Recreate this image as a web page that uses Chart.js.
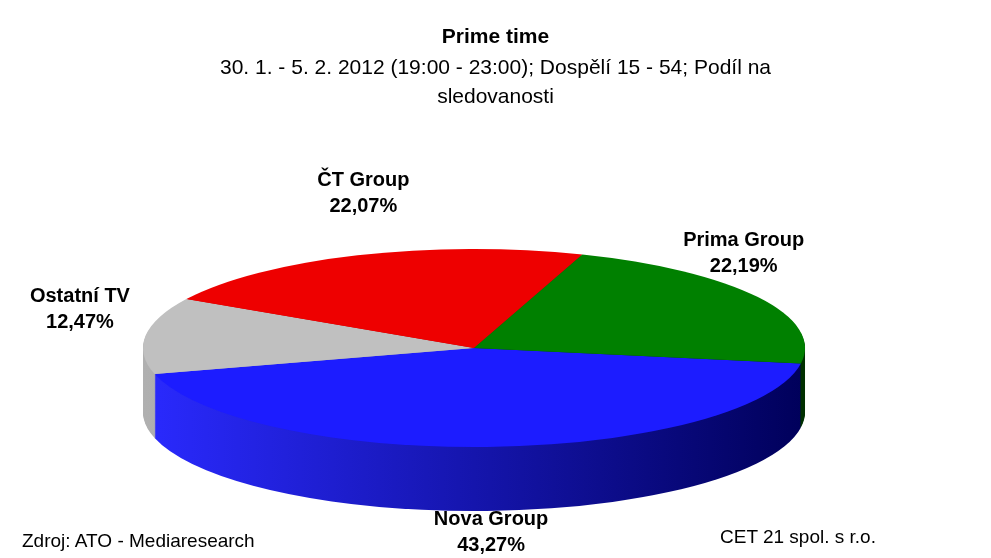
<!DOCTYPE html>
<html><head><meta charset="utf-8">
<script src="https://cdn.jsdelivr.net/npm/chart.js@4.4.1/dist/chart.umd.min.js"></script>
<style>
body{margin:0;background:#fff;font-family:"Liberation Sans",Arial,sans-serif}
#wrap{position:relative;width:991px;height:558px}
.foot{position:absolute;font-size:19px;color:#000}
</style></head><body>
<div id="wrap">
<canvas id="c" width="991" height="558"></canvas>
<div class="foot" style="left:22px;top:530px">Zdroj: ATO - Mediaresearch</div>
<div class="foot" style="left:720px;top:526px">CET 21 spol. s r.o.</div>
</div>
<script>
const labels = ["Nova Group", "Ostatní TV", "ČT Group", "Prima Group"];
const shares = [43.27, 12.47, 22.07, 22.19];
const topColors = ["#1c1cff", "#c0c0c0", "#ee0000", "#008000"];
const sideDark = ["#00005a", "#8a8a8a", "#900000", "#003000"];
const sideLight = ["#2a2aff", "#b0b0b0", "#d00000", "#006000"];

// geometry of the tilted pie
const cx = 474, cy = 348, rx = 331, ry = 99, depth = 64;

const pie3d = {
  id: "pie3d",
  beforeDatasetsDraw(chart) {
    const ctx = chart.ctx;
    const arcs = chart.getDatasetMeta(0).data;
    const slice = (el, dy) => {
      const s = rx / el.outerRadius;
      ctx.save();
      ctx.translate(cx, cy + dy);
      ctx.scale(s, (ry / rx) * s);
      ctx.translate(-el.x, -el.y);
      ctx.beginPath();
      ctx.moveTo(el.x, el.y);
      ctx.arc(el.x, el.y, el.outerRadius, el.startAngle, el.endAngle);
      ctx.closePath();
      ctx.restore();
    };
    // sides
    for (let d = depth; d > 0; d -= 1) {
      arcs.forEach((el, i) => {
        const g = ctx.createLinearGradient(cx - rx, 0, cx + rx, 0);
        g.addColorStop(0, sideLight[i]);
        g.addColorStop(1, sideDark[i]);
        slice(el, d);
        ctx.fillStyle = g;
        ctx.fill();
      });
    }
    // top
    arcs.forEach((el, i) => {
      slice(el, 0);
      ctx.fillStyle = topColors[i];
      ctx.fill();
    });
    // labels
    ctx.fillStyle = "#000";
    ctx.textAlign = "center";
    ctx.font = "bold 20px 'Liberation Sans', Arial";
    arcs.forEach((el, i) => {
      const a = (el.startAngle + el.endAngle) / 2;
      const c = Math.cos(a), sn = Math.sin(a);
      const x = cx + c * rx * (c < -0.8 ? 1.2 : 0.95);
      const y = sn > 0 ? cy + sn * ry + depth + 14 : cy + sn * ry * 1.45 - 28;
      ctx.fillText(labels[i], x, y);
      ctx.fillText(shares[i].toFixed(2).replace(".", ",") + "%", x, y + 26);
    });
    return false;
  }
};

new Chart(document.getElementById("c"), {
  type: "pie",
  data: { labels, datasets: [{ data: shares, backgroundColor: topColors, borderWidth: 0 }] },
  options: {
    responsive: false,
    animation: false,
    rotation: 99,
    layout: { padding: 0 },
    plugins: {
      legend: { display: false },
      tooltip: { enabled: false },
      title: {
        display: true, text: "Prime time", color: "#000", padding: { top: 25, bottom: 4 },
        font: { family: "'Liberation Sans', Arial", size: 21, weight: "bold" }
      },
      subtitle: {
        display: true, color: "#000",
        text: ["30. 1. - 5. 2. 2012 (19:00 - 23:00); Dospělí 15 - 54; Podíl na", "sledovanosti"],
        font: { family: "'Liberation Sans', Arial", size: 21, lineHeight: 1.35 }
      }
    }
  },
  plugins: [pie3d]
});
</script>
</body></html>
